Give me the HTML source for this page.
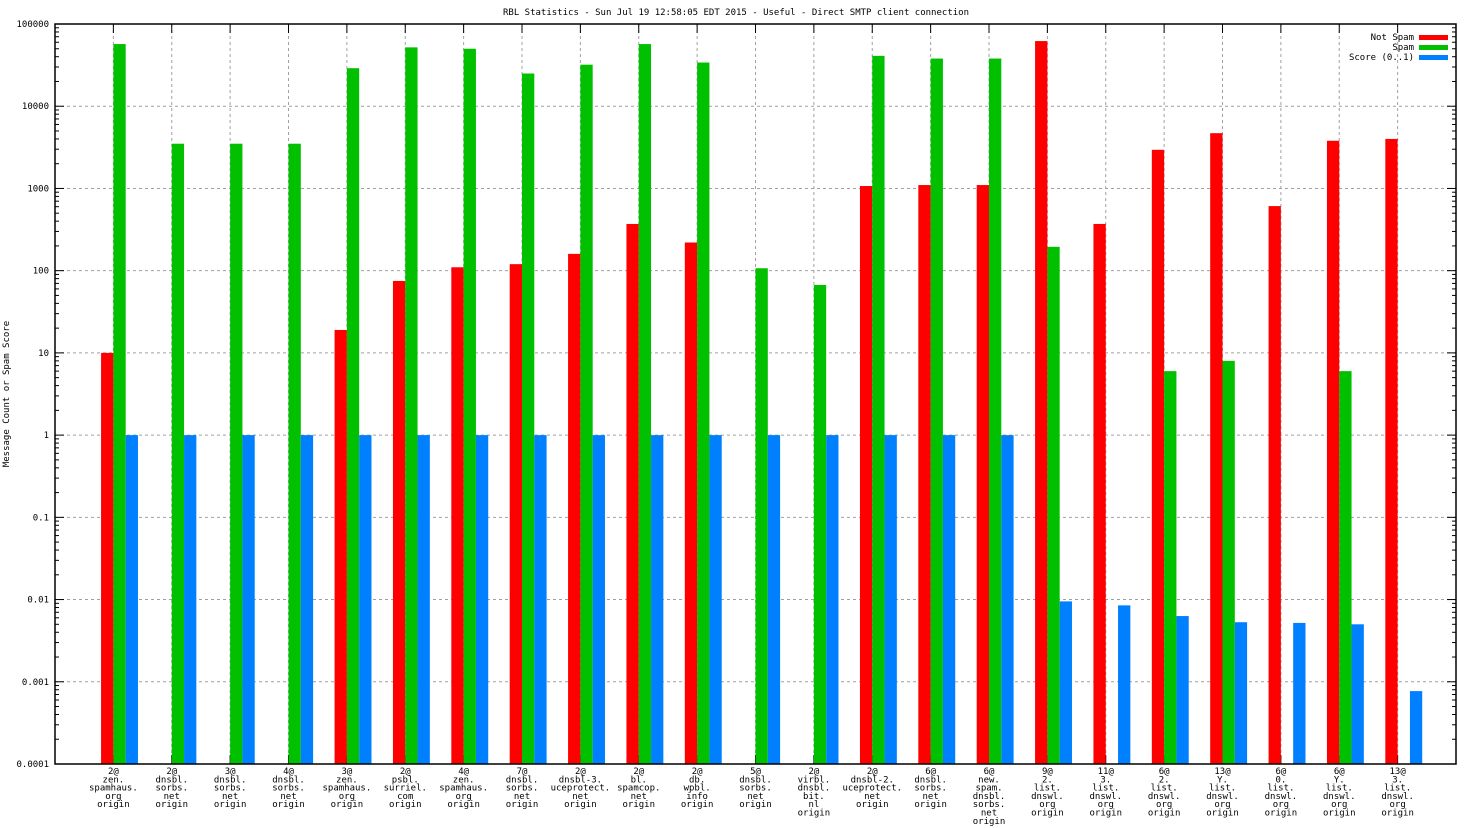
<!DOCTYPE html>
<html><head><meta charset="utf-8"><style>
html,body{margin:0;padding:0;background:#fff;}
svg{display:block;font-family:"DejaVu Sans Mono","Liberation Mono",monospace;}
</style></head><body>
<svg id="chart" width="1472" height="828" viewBox="0 0 1472 828"></svg>
<script>
const categories=[
["2@","zen.","spamhaus.","org","origin"],["2@","dnsbl.","sorbs.","net","origin"],["3@","dnsbl.","sorbs.","net","origin"],["4@","dnsbl.","sorbs.","net","origin"],["3@","zen.","spamhaus.","org","origin"],["2@","psbl.","surriel.","com","origin"],["4@","zen.","spamhaus.","org","origin"],["7@","dnsbl.","sorbs.","net","origin"],["2@","dnsbl-3.","uceprotect.","net","origin"],["2@","bl.","spamcop.","net","origin"],["2@","db.","wpbl.","info","origin"],["5@","dnsbl.","sorbs.","net","origin"],["2@","virbl.","dnsbl.","bit.","nl","origin"],["2@","dnsbl-2.","uceprotect.","net","origin"],["6@","dnsbl.","sorbs.","net","origin"],["6@","new.","spam.","dnsbl.","sorbs.","net","origin"],["9@","2.","list.","dnswl.","org","origin"],["11@","3.","list.","dnswl.","org","origin"],["6@","2.","list.","dnswl.","org","origin"],["13@","Y.","list.","dnswl.","org","origin"],["6@","0.","list.","dnswl.","org","origin"],["6@","Y.","list.","dnswl.","org","origin"],["13@","3.","list.","dnswl.","org","origin"]];
const notSpam=[10,0,0,0,19,75,110,120,160,370,220,0,0,1070,1100,1100,62000,370,2950,4700,610,3800,4000];
const spam=[57000,3500,3500,3500,29000,52000,50000,25000,32000,57000,34000,107,67,41000,38000,38000,195,0,6,8,0,6,0];
const score=[1,1,1,1,1,1,1,1,1,1,1,1,1,1,1,1,0.0095,0.0085,0.0063,0.0053,0.0052,0.005,0.00077];
const yTicks=["0.0001","0.001","0.01","0.1","1","10","100","1000","10000","100000"];

const NS="http://www.w3.org/2000/svg";
const svg=document.getElementById('chart');
const L=55,R=1456,T=24,B=764;
const slot=(R-L)/24;
const xc=i=>L+(i+1)*slot;
const y=v=>B-(Math.log10(v)+4)/9*(B-T);
const bw=12.3;
function mk(tag,a){const e=document.createElementNS(NS,tag);for(const k in a)e.setAttribute(k,a[k]);svg.appendChild(e);return e;}
function txt(x,yy,s,anchor){const t=mk('text',{x:x,y:yy,'font-size':'9','text-anchor':anchor||'middle',fill:'#000'});t.textContent=s;return t;}

const title=txt(736,15,"RBL Statistics - Sun Jul 19 12:58:05 EDT 2015 - Useful - Direct SMTP client connection");


const yt=mk('text',{x:0,y:0,'font-size':'9','text-anchor':'middle',transform:'translate(9,394) rotate(-90)'});
yt.textContent="Message Count or Spam Score";



// horizontal grid + y ticks
yTicks.forEach(s=>{
  const v=parseFloat(s), yy=y(v);
  if(v>0.0001&&v<100000){
    const g=mk('line',{x1:L,x2:R,y1:yy,y2:yy,stroke:'#a0a0a0','stroke-dasharray':'3,3'});
    
    
  }
  mk('line',{x1:L,x2:L+9,y1:yy,y2:yy,stroke:'#000'});
  mk('line',{x1:R-9,x2:R,y1:yy,y2:yy,stroke:'#000'});
  for(let m=2;m<10&&v<100000;m++){const my=y(v*m);mk('line',{x1:L,x2:L+4,y1:my,y2:my,stroke:'#000'});mk('line',{x1:R-4,x2:R,y1:my,y2:my,stroke:'#000'});}
  const t=txt(L-6,yy+3,s,'end');
  
  
});
// vertical grid + x labels
categories.forEach((c,i)=>{
  const x=xc(i);
  const g=mk('line',{x1:x,x2:x,y1:T,y2:B,stroke:'#a0a0a0','stroke-dasharray':'3,3'});
  
  
  mk('line',{x1:x,x2:x,y1:B-9,y2:B,stroke:'#000'});
  mk('line',{x1:x,x2:x,y1:T,y2:T+9,stroke:'#000'});
  c.forEach((s,k)=>{const t=txt(x,774+k*8.3,s);
    
    });
});
// bars
const series=[[notSpam,'#ff0000',-bw,'not-spam-bar'],[spam,'#00c000',0,'spam-bar'],[score,'#0080ff',bw,'score-bar']];
series.forEach(([arr,col,off,name])=>{
  arr.forEach((v,i)=>{
    if(!(v>0))return;
    const top=y(v);
    const r=mk('rect',{x:xc(i)+off,y:top,width:bw,height:B-top,fill:col});
    
    
  });
});
// frame
const f=mk('rect',{x:L,y:T,width:R-L,height:B-T,fill:'none',stroke:'#000','stroke-width':1.5});


// legend
[["Not Spam",'#ff0000'],["Spam",'#00c000'],["Score (0..1)",'#0080ff']].forEach(([s,c],k)=>{
  const yy=37+k*10;
  const t=txt(1414,yy+3,s,'end');
  
  
  const r=mk('rect',{x:1419,y:yy-2,width:29,height:5,fill:c});
  
  
});
</script>
</body></html>
